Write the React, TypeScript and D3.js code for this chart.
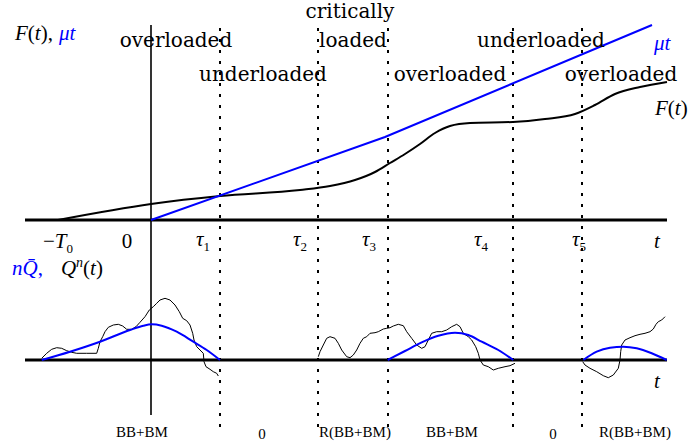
import React from 'react';
import * as d3 from 'd3';

// time axis: -T0, 0, tau1..tau5, end of axis
const T0 = -9.3;
const taus = [6.9, 16.7, 23.7, 36.2, 43.1];
const tStart = -12.6;
const tEnd = 51.6;

// F(t), cumulative arrival curve (upper panel)
const fT = [-9.3, 0, 6.9, 14.9, 17.9, 20.4, 22.4, 23.9, 25.4, 26.9, 28.4, 29.9, 31.9, 36.2, 39.4, 42.4, 44.4, 46.4, 48.9, 51.6];
const fV = [0, 1.6, 2.4, 3.0, 3.4, 4.0, 4.8, 5.7, 6.6, 7.6, 8.7, 9.4, 9.7, 9.8, 10.1, 10.6, 11.5, 12.6, 13.3, 13.8];

// mu*t service line
const muT = [0, 23.4, 50.1];
const muV = [0, 8.3, 19.5];

// fluid limit n*Qbar (lower panel, three humps)
const qbar1T = [-10.93, -8.1, -5.1, -2.1, -0.77, 0.07, 1.07, 2.57, 4.23, 5.57, 6.9];
const qbar1V = [0, 0.83, 1.83, 3.0, 3.43, 3.57, 3.43, 2.83, 1.83, 1.0, 0];
const qbar2T = [23.67, 25.4, 27.07, 28.73, 30.4, 31.73, 33.07, 34.73, 36.23];
const qbar2V = [0, 0.9, 1.77, 2.43, 2.73, 2.5, 1.83, 1.0, 0];
const qbar3T = [43.23, 44.57, 45.9, 47.23, 48.57, 50.07, 51.57];
const qbar3V = [0, 0.83, 1.23, 1.33, 1.17, 0.67, 0];

// sample path Q^n(t)
const q1T = [-10.93, -10.43, -9.93, -9.43, -8.93, -8.43, -7.93, -7.43, -6.43, -5.43, -5.27, -5.1, -4.83, -4.6, -4.27, -3.77, -3.27, -2.83, -2.43, -1.93, -1.5, -1.1, -0.6, -0.17, 0.23, 0.57, 0.9, 1.4, 1.9, 2.4, 2.83, 3.17, 3.57, 3.9, 4.17, 4.3, 4.57, 4.9, 5.23, 5.3, 5.5, 5.9, 6.23, 6.57, 6.73];
const q1V = [0.17, 0.67, 1.07, 1.23, 1.17, 0.93, 0.77, 0.67, 0.67, 0.67, 1.17, 1.83, 2.33, 2.83, 3.27, 3.5, 3.57, 3.4, 3.07, 3.07, 3.33, 3.77, 4.33, 5.0, 5.33, 5.67, 6.0, 6.17, 6.0, 5.5, 4.83, 4.17, 3.93, 3.5, 2.67, 2.0, 1.33, 1.0, 0.67, -0.17, -0.67, -0.93, -1.17, -1.33, -1.6];
const q2T = [16.73, 16.9, 17.23, 17.57, 17.9, 18.4, 18.73, 19.07, 19.57, 19.9, 20.23, 20.57, 20.9, 21.23, 21.57, 21.9, 22.4, 22.73, 23.23, 23.57, 23.9, 24.23, 24.73, 25.23, 25.57, 26.07, 26.57, 27.07, 27.4, 27.73, 28.07, 28.57, 29.07, 29.57, 30.07, 30.57, 30.9, 31.23, 31.73, 32.07, 32.47, 32.73, 32.9, 33.23, 33.73, 34.23, 34.73, 35.4, 35.9, 36.4];
const q2V = [0.33, 0.83, 1.5, 2.17, 2.33, 2.17, 1.67, 1.0, 0.33, 0.23, 0.5, 1.0, 1.67, 2.17, 2.33, 2.67, 2.73, 2.83, 3.1, 3.17, 3.23, 3.4, 3.57, 3.43, 2.83, 2.17, 1.5, 1.17, 1.33, 2.0, 2.67, 2.83, 2.83, 3.0, 3.33, 3.57, 3.33, 2.67, 2.33, 2.0, 1.33, 0.67, 0, -0.5, -0.67, -1.0, -0.83, -0.67, -0.57, -0.33];
const q3T = [43.17, 43.4, 43.9, 44.57, 45.23, 45.73, 46.23, 46.73, 46.9, 46.97, 47.07, 47.4, 47.9, 48.4, 48.9, 49.4, 49.9, 50.23, 50.5, 50.73, 51.07, 51.4];
const q3V = [-0.17, -0.5, -0.83, -1.17, -1.57, -1.77, -1.5, -0.83, 0, 0.83, 1.5, 2.0, 2.23, 2.43, 2.57, 2.67, 2.83, 3.1, 3.57, 3.83, 4.0, 4.33];

// regime labels across the top
const regimeText = ['overloaded', 'underloaded', 'critically', 'loaded', 'overloaded', 'underloaded', 'overloaded'];
const regimeT = [2.5, 11.2, 19.9, 20.2, 29.9, 39.0, 47.0];
const regimeRow = [1, 2, 0, 1, 2, 1, 2];

// limit process on each interval
const limitText = ['BB+BM', '0', 'R(BB+BM)', 'BB+BM', '0', 'R(BB+BM)'];
const limitT = [-0.9, 11.1, 20.4, 30.1, 40.2, 48.4];

const zip = (a: number[], b: number[]) => a.map((v, i) => [v, b[i]] as [number, number]);

export default function App() {
  const x = d3.scaleLinear().domain([tStart, tEnd]).range([25, 667]);
  const yF = d3.scaleLinear().domain([0, 19.5]).range([220, 25]);
  const yQ = d3.scaleLinear().domain([0, 4]).range([360, 320]);

  const lineF = d3.line<[number, number]>().x((d) => x(d[0])).y((d) => yF(d[1])).curve(d3.curveMonotoneX);
  const lineMu = d3.line<[number, number]>().x((d) => x(d[0])).y((d) => yF(d[1]));
  const lineBar = d3.line<[number, number]>().x((d) => x(d[0])).y((d) => yQ(d[1])).curve(d3.curveMonotoneX);
  const lineQ = d3.line<[number, number]>().x((d) => x(d[0])).y((d) => yQ(d[1]));

  const rowY = [18, 47, 81];
  const math = { fontFamily: '"Liberation Serif", serif', fontStyle: 'italic' as const };
  const up = { fontStyle: 'normal' as const };

  const tickY = 248;
  const sub = (s: string) => (
    <tspan dy={5} fontSize={13} style={up}>{s}</tspan>
  );

  return (
    <svg width={694} height={448} style={{ position: 'absolute', left: 0, top: 0 }}>
      {/* dotted interval boundaries */}
      {taus.map((t, i) => (
        <line key={'d' + i} x1={x(t)} x2={x(t)} y1={yF(19.2)} y2={yQ(-7.5)}
          stroke="#000" strokeWidth={2} strokeDasharray="3 8" />
      ))}
      {/* vertical axis at t = 0 */}
      <line x1={x(0)} x2={x(0)} y1={yF(19.5)} y2={yQ(-5.5)} stroke="#000" strokeWidth={1.6} />
      {/* horizontal axes */}
      <line x1={x(tStart)} x2={x(tEnd)} y1={yF(0)} y2={yF(0)} stroke="#000" strokeWidth={3} />
      <line x1={x(tStart)} x2={x(tEnd)} y1={yQ(0)} y2={yQ(0)} stroke="#000" strokeWidth={3} />

      {/* upper panel curves */}
      <path d={lineF(zip(fT, fV)) || ''} fill="none" stroke="#000" strokeWidth={2} />
      <path d={lineMu(zip(muT, muV)) || ''} fill="none" stroke="#0000ff" strokeWidth={2} />

      {/* lower panel */}
      {[zip(q1T, q1V), zip(q2T, q2V), zip(q3T, q3V)].map((d, i) => (
        <path key={'q' + i} d={lineQ(d) || ''} fill="none" stroke="#000" strokeWidth={1} strokeLinejoin="round" />
      ))}
      {[zip(qbar1T, qbar1V), zip(qbar2T, qbar2V), zip(qbar3T, qbar3V)].map((d, i) => (
        <path key={'b' + i} d={lineBar(d) || ''} fill="none" stroke="#0000ff" strokeWidth={2} />
      ))}

      {/* regime labels */}
      {regimeText.map((s, i) => (
        <text key={'r' + i} x={x(regimeT[i])} y={rowY[regimeRow[i]]} textAnchor="middle"
          fontFamily='"DejaVu Serif", serif' fontSize={20} fill="#000">{s}</text>
      ))}

      {/* axis titles */}
      <text x={15} y={40} fontSize={21} style={math}>
        F<tspan style={up}>(</tspan>t<tspan style={up}>),</tspan>
        <tspan fill="#0000ff" dx={6}>μt</tspan>
      </text>
      <text x={x(50.3)} y={yF(17)} fontSize={21} style={math} fill="#0000ff">μt</text>
      <text x={x(50.4)} y={yF(10.5)} fontSize={21} style={math}>
        F<tspan style={up}>(</tspan>t<tspan style={up}>)</tspan>
      </text>
      <text x={12} y={275} fontSize={21} style={math}>
        <tspan fill="#0000ff">nQ̄<tspan style={up}>,</tspan></tspan>
        <tspan dx={18}>Q</tspan>
        <tspan dy={-8} fontSize={14}>n</tspan>
        <tspan dy={8} style={up}>(</tspan>t<tspan style={up}>)</tspan>
      </text>

      {/* tick labels on the t axis */}
      <g fontSize={21} style={math}>
        <text x={x(T0)} y={tickY} textAnchor="middle">
          <tspan style={up}>−</tspan>T{sub('0')}
        </text>
        <text x={x(-2.4)} y={tickY} textAnchor="middle" style={up}>0</text>
        {taus.map((t, i) => (
          <text key={'tl' + i} x={x(t) - [17, 18, 19, 32, 3][i]} y={tickY - 2} textAnchor="middle">
            τ{sub(String(i + 1))}
          </text>
        ))}
        <text x={x(50.6)} y={tickY} textAnchor="middle">t</text>
        <text x={x(50.6)} y={yQ(-2.8)} textAnchor="middle">t</text>
      </g>

      {/* limit process labels */}
      {limitText.map((s, i) => (
        <text key={'l' + i} x={x(limitT[i])} y={i % 3 === 1 ? 439 : 437} textAnchor="middle"
          fontFamily='"Liberation Serif", serif' fontSize={15}>{s}</text>
      ))}
    </svg>
  );
}
